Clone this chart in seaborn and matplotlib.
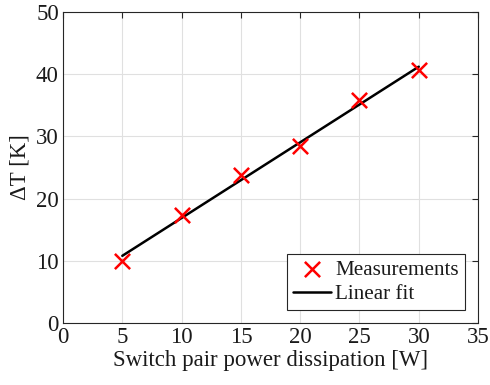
import matplotlib
matplotlib.use("Agg")
import matplotlib.pyplot as plt
import seaborn as sns
import numpy as np
import pandas as pd

power = [5, 10, 15, 20, 25, 30]
delta_t = [9.9, 17.3, 23.8, 28.4, 35.8, 40.7]
fit_x = [5, 30]
fit_y = [10.8, 41.2]
x_ticks = [0, 5, 10, 15, 20, 25, 30, 35]
y_ticks = [0, 10, 20, 30, 40, 50]

sns.set_theme(style="whitegrid")
plt.rcParams['font.family'] = ['Liberation Serif', 'DejaVu Serif']
plt.rcParams['mathtext.fontset'] = 'stix'

fig = plt.figure(figsize=(4.9, 3.85), dpi=100)
ax = fig.add_axes([0.1286, 0.161, 0.847, 0.808])

df_meas = pd.DataFrame({"x": power, "y": delta_t})
df_fit = pd.DataFrame({"x": fit_x, "y": fit_y})

sns.lineplot(data=df_fit, x="x", y="y", ax=ax, color="black", linewidth=1.8,
             label="Linear fit", zorder=2)
sns.scatterplot(data=df_meas, x="x", y="y", ax=ax, marker="x", color="red",
                s=120, linewidth=1.8, label="Measurements", zorder=3)

ax.set_xlim(0, 35)
ax.set_ylim(0, 50)
ax.set_xticks(x_ticks)
ax.set_yticks(y_ticks)
ax.set_facecolor("white")
ax.grid(True, color="#e0e0e0", linewidth=0.8)
for s in ax.spines.values():
    s.set_color("#262626")
    s.set_linewidth(0.8)
ax.tick_params(direction="in", length=4, width=0.8, colors="#262626",
               top=True, right=True, labelsize=16.5, pad=3, labelcolor="#1a1a1a")
ax.set_xlabel("Switch pair power dissipation [W]", fontsize=16.5, color="#1a1a1a", labelpad=1)
ax.set_ylabel("ΔT [K]", fontsize=16.5, color="#1a1a1a", labelpad=4)

h, l = ax.get_legend_handles_labels()
order = [l.index("Measurements"), l.index("Linear fit")]
leg = ax.legend([h[i] for i in order], [l[i] for i in order], loc="lower right",
                fontsize=15.2, frameon=True, fancybox=False, edgecolor="#262626",
                framealpha=1, borderpad=0.3, handlelength=1.8, handletextpad=0.2,
                labelspacing=0.2, borderaxespad=0.6)
leg.get_frame().set_linewidth(0.8)
for t in leg.get_texts():
    t.set_color("#1a1a1a")

fig.savefig("out.png", dpi=100)
